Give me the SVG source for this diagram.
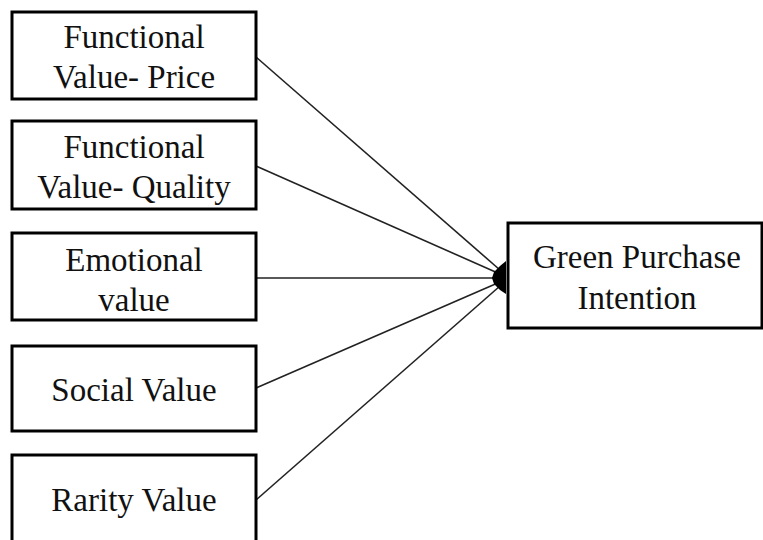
<svg xmlns="http://www.w3.org/2000/svg" width="763" height="540" viewBox="0 0 763 540">
  <style>
    .box { fill: #fff; stroke: #000; stroke-width: 3; }
    .lbl { font-family: "Liberation Serif", "Times New Roman", serif; font-size: 33px; fill: #111; text-anchor: middle; }
    .edge { stroke: #222; stroke-width: 1.6; fill: none; }
  </style>
  <rect width="763" height="540" fill="#fff"/>

  <g id="connectors">
    <line class="edge" x1="256" y1="57" x2="500" y2="270"/>
    <line class="edge" x1="256" y1="166" x2="500" y2="274"/>
    <line class="edge" x1="256" y1="278" x2="500" y2="278"/>
    <line class="edge" x1="256" y1="388" x2="500" y2="282"/>
    <line class="edge" x1="256" y1="500" x2="500" y2="286"/>
    <!-- merged arrowheads where all paths meet the outcome box -->
    <path d="M506,261 L500,266 L494,272 L492,278 L494,284 L500,290 L506,294 Z" fill="#000"/>
  </g>

  <g id="price">
    <rect class="box" x="12" y="12" width="244" height="87"/>
    <text class="lbl" x="134" y="48">Functional</text>
    <text class="lbl" x="134" y="88">Value- Price</text>
  </g>
  <g id="quality">
    <rect class="box" x="12" y="121" width="244" height="88"/>
    <text class="lbl" x="134" y="158">Functional</text>
    <text class="lbl" x="134" y="198">Value- Quality</text>
  </g>
  <g id="emotional">
    <rect class="box" x="12" y="233" width="244" height="87"/>
    <text class="lbl" x="134" y="271">Emotional</text>
    <text class="lbl" x="134" y="311">value</text>
  </g>
  <g id="social">
    <rect class="box" x="12" y="346" width="244" height="85"/>
    <text class="lbl" x="134" y="401">Social Value</text>
  </g>
  <g id="rarity">
    <rect class="box" x="12" y="455" width="244" height="100"/>
    <text class="lbl" x="134" y="511">Rarity Value</text>
  </g>
  <g id="intention">
    <rect class="box" x="508" y="223" width="254" height="105"/>
    <text class="lbl" x="637" y="268">Green Purchase</text>
    <text class="lbl" x="637" y="309">Intention</text>
  </g>
</svg>
